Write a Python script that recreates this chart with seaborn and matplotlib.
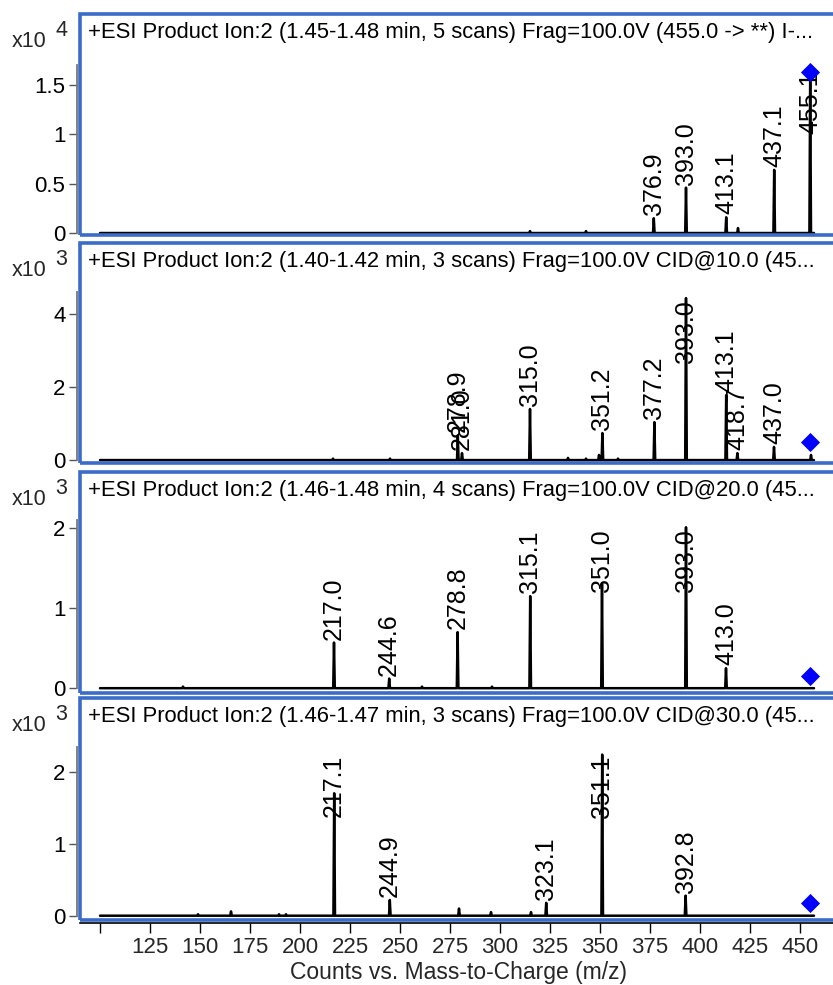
import numpy as np
import pandas as pd
import matplotlib
matplotlib.use("Agg")
import matplotlib.pyplot as plt
import seaborn as sns
from matplotlib.patches import Rectangle

sns.set_theme(style="white")
plt.rcParams["font.family"] = ["Liberation Sans", "DejaVu Sans"]

# ---------------- data ----------------
titles = [
    "+ESI Product Ion:2 (1.45-1.48 min, 5 scans) Frag=100.0V (455.0 -> **) I-...",
    "+ESI Product Ion:2 (1.40-1.42 min, 3 scans) Frag=100.0V CID@10.0 (45...",
    "+ESI Product Ion:2 (1.46-1.48 min, 4 scans) Frag=100.0V CID@20.0 (45...",
    "+ESI Product Ion:2 (1.46-1.47 min, 3 scans) Frag=100.0V CID@30.0 (45...",
]
exponents = ["4", "3", "3", "3"]

# labelled peaks (m/z, intensity in panel units)
p1_mz = [376.9, 393.0, 413.1, 437.1, 455.1]
p1_int = [0.15, 0.46, 0.16, 0.64, 1.63]
p1_lab = ["376.9", "393.0", "413.1", "437.1", "455.1"]
p1_minor_mz = [315.0, 343.0, 419.0]
p1_minor_int = [0.02, 0.02, 0.05]

p2_mz = [278.9, 281.0, 315.0, 351.2, 377.2, 393.0, 413.1, 418.7, 437.0]
p2_int = [0.68, 0.19, 1.40, 0.74, 1.04, 4.44, 1.78, 0.19, 0.36]
p2_lab = ["278.9", "281.0", "315.0", "351.2", "377.2", "393.0", "413.1", "418.7", "437.0"]
p2_minor_mz = [216.5, 245.0, 334.0, 343.0, 349.5, 359.0, 455.5]
p2_minor_int = [0.04, 0.04, 0.06, 0.04, 0.14, 0.04, 0.14]

p3_mz = [217.0, 244.6, 278.8, 315.1, 351.0, 393.0, 413.0]
p3_int = [0.57, 0.12, 0.70, 1.15, 1.31, 2.01, 0.25]
p3_lab = ["217.0", "244.6", "278.8", "315.1", "351.0", "393.0", "413.0"]
p3_minor_mz = [141.5, 261.0, 296.0]
p3_minor_int = [0.02, 0.02, 0.02]

p4_mz = [217.1, 244.9, 323.1, 351.1, 392.8]
p4_int = [1.71, 0.22, 0.18, 2.25, 0.28]
p4_lab = ["217.1", "244.9", "323.1", "351.1", "392.8"]
p4_minor_mz = [149.0, 165.5, 189.5, 193.0, 279.5, 295.5, 315.5]
p4_minor_int = [0.02, 0.06, 0.02, 0.02, 0.10, 0.05, 0.05]

precursor_mz = 455.0
precursor_int = [1.63, 0.49, 0.15, 0.18]

y_ticks = [[0, 0.5, 1, 1.5], [0, 2, 4], [0, 1, 2], [0, 1, 2]]
y_lims = [(-0.02, 2.22), (-0.08, 5.95), (-0.06, 2.70), (-0.06, 3.04)]
y_axis_top = [1.70, 4.60, 2.10, 2.36]
x_ticks = [100, 125, 150, 175, 200, 225, 250, 275, 300, 325, 350, 375, 400, 425, 450]
x_range = (100.0, 457.0)
x_title = "Counts vs. Mass-to-Charge (m/z)"

panels = [
    (p1_mz, p1_int, p1_lab, p1_minor_mz, p1_minor_int),
    (p2_mz, p2_int, p2_lab, p2_minor_mz, p2_minor_int),
    (p3_mz, p3_int, p3_lab, p3_minor_mz, p3_minor_int),
    (p4_mz, p4_int, p4_lab, p4_minor_mz, p4_minor_int),
]

# ---------------- layout ----------------
W, H = 833, 985
fig = plt.figure(figsize=(W / 100, H / 100), dpi=100)
boxes_px = [(14, 235), (243, 463), (472, 693), (698, 920)]
left_px, right_px = 80, 842
BLUE = "#3a6cc8"


def make_profile(mz_list, int_list):
    pts = sorted(zip(mz_list, int_list))
    xs, ys = [x_range[0]], [0.0]
    for m, h in pts:
        xs += [m - 0.4, m, m + 0.4]
        ys += [0.0, h, 0.0]
    xs.append(x_range[1])
    ys.append(0.0)
    return pd.DataFrame({"mz": xs, "counts": ys})


axes = []
for i, (top, bot) in enumerate(boxes_px):
    ax = fig.add_axes([left_px / W, 1 - bot / H, (right_px - left_px) / W, (bot - top) / H])
    ax.set_facecolor("none")
    axes.append(ax)
    mz, inten, labs, mmz, mint = panels[i]
    df = make_profile(list(mz) + list(mmz), list(inten) + list(mint))
    sns.lineplot(data=df, x="mz", y="counts", sort=False, estimator=None,
                 color="black", lw=1.8, ax=ax)
    sns.scatterplot(x=[precursor_mz], y=[precursor_int[i]], marker="D",
                    color="#0000ff", s=95, edgecolor="#0000ff", linewidth=0,
                    ax=ax, zorder=6)
    ax.set_xlim(90, 471)
    ax.set_ylim(*y_lims[i])
    ax.set_xlabel("")
    ax.set_ylabel("")
    for s in ["top", "right", "bottom"]:
        ax.spines[s].set_visible(False)
    ax.spines["left"].set_visible(True)
    ax.spines["left"].set_color("#777777")
    ax.spines["left"].set_linewidth(1.3)
    ax.spines["left"].set_position(("outward", 2.5))
    ax.spines["left"].set_bounds(0, y_axis_top[i])
    ax.set_yticks(y_ticks[i])
    ax.set_yticklabels([f"{t:g}" for t in y_ticks[i]])
    ax.tick_params(axis="y", left=True, direction="out", length=6, width=1.0,
                   color="#555555", labelsize=16, pad=2, labelcolor="black")
    ax.add_patch(Rectangle((0, 0), 1, 1, transform=ax.transAxes, fill=False,
                           ec=BLUE, lw=2.6, clip_on=False, zorder=10))
    ax.grid(False)
    # title and scale factor
    ax.annotate(titles[i], xy=(0, 1), xycoords="axes fraction", xytext=(8, -24),
                textcoords="offset pixels", ha="left", va="baseline", fontsize=15.8,
                color="black")
    ax.annotate("x10", xy=(0, 1), xycoords="axes fraction", xytext=(-68, -33),
                textcoords="offset pixels", ha="left", va="baseline", fontsize=15.5)
    ax.annotate(exponents[i], xy=(0, 1), xycoords="axes fraction", xytext=(-25, -22),
                textcoords="offset pixels", ha="left", va="baseline", fontsize=15.5)
    if i < 3:
        ax.set_xticks([])
    else:
        ax.spines["bottom"].set_visible(True)
        ax.spines["bottom"].set_color("black")
        ax.spines["bottom"].set_linewidth(1.2)
        ax.spines["bottom"].set_position(("outward", 2))
        ax.set_xticks(x_ticks)
        ax.set_xticklabels(["" if t == 100 else str(t) for t in x_ticks])
        ax.tick_params(axis="x", bottom=True, direction="out", length=7, width=1.0,
                       color="black", labelsize=16, pad=3)
        fig.text(458 / W, 1 - 972 / H, x_title, ha="center", va="center",
                 fontsize=16.5)

# peak labels (placed just above each peak, capped below the panel top)
fig.canvas.draw()
renderer = fig.canvas.get_renderer()
for i, ax in enumerate(axes):
    mz, inten, labs, _, _ = panels[i]
    ax_top_px = ax.transAxes.transform((0, 1))[1]
    cap = ax_top_px - 57
    for k in range(len(mz)):
        t = ax.annotate(labs[k], xy=(mz[k], inten[k]), xytext=(0, 3),
                        textcoords="offset pixels", rotation=90, ha="center",
                        va="bottom", fontsize=18, color="black", zorder=4)
        bb = t.get_window_extent(renderer)
        peak_px = ax.transData.transform((mz[k], inten[k]))[1]
        off = 3
        if peak_px + off + bb.height > cap:
            off = cap - bb.height - peak_px
        t.xyann = (0, off)

fig.savefig("out.png", dpi=100)
